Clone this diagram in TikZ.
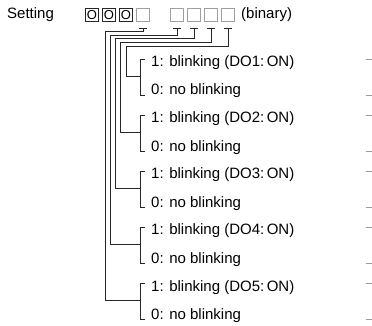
\documentclass[tikz,border=0pt]{standalone}
\usepackage{fontspec}
\setmainfont{Liberation Sans}
\begin{document}
\begin{tikzpicture}[x=1pt,y=-1pt,
  font=\fontsize{15}{18}\selectfont,
  bx/.style={draw=gray!75, line width=0.8pt, minimum size=13pt, inner sep=0pt},
  obx/.style={bx, draw=black!85, font=\fontsize{13}{13}\selectfont},
  lbl/.style={anchor=west, inner sep=0pt},
  conn/.style={draw=black!85, line width=0.75pt},
  tick/.style={draw=gray!80, line width=1pt}]
\useasboundingbox (0,0) rectangle (372,325);
\node[lbl] (setting) at (7,15) {Setting};
\node[obx] (b1) at (92,15) {O};
\node[obx] (b2) at (109,15) {O};
\node[obx] (b3) at (126,15) {O};
\node[bx] (b4) at (143,15) {};
\node[bx] (b5) at (177,15) {};
\node[bx] (b6) at (194,15) {};
\node[bx] (b7) at (211,15) {};
\node[bx] (b8) at (228,15) {};
\node[lbl] (bin) at (241,15) {(binary)};
\foreach \k/\b/\x/\y in {1/b8/126/46, 2/b7/120.5/42, 3/b6/115.5/38.5, 4/b5/110/35, 5/b4/105/31.5}{
  \pgfmathsetmacro\T{59+56.2*(\k-1)}
  \coordinate (bt\k) at (140,\T);
  \coordinate (bb\k) at (140,\T+36);
  \coordinate (bm\k) at (140,\T+17);
  \node[lbl] (on\k) at (151,\T+3.5) {1: blinking (DO\k:\,ON)};
  \node[lbl] (off\k) at (151,\T+32) {0: no blinking};
  \draw[conn] ([xshift=5pt]bt\k) -- (bt\k) -- (bb\k) -- ([xshift=5pt]bb\k);
  \coordinate (t\k) at ([yshift=-6pt]\b.south);
  \draw[conn] ([xshift=-4pt]t\k) -- ([xshift=4pt]t\k);
  \draw[conn] (t\k) |- (\x,\y) |- (bm\k);
  \draw[tick] (366,\T) -- (372,\T);
  \draw[tick] (366,\T+36) -- (372,\T+36);
}
\end{tikzpicture}
\end{document}
